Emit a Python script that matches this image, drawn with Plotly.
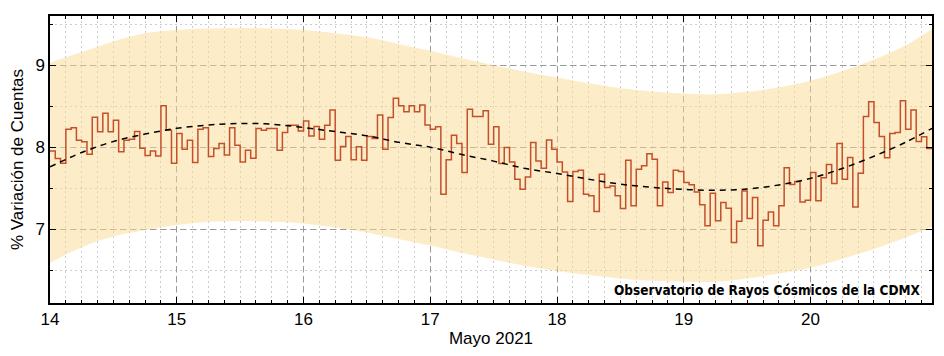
import plotly.graph_objects as go

# Hourly % variation of counts, 14 May 00:00 -> 20 May 23:00 (2021)
day_start = 14
counts_var = [
    # 14 May
    7.955, 7.862, 7.805, 8.220, 8.236, 8.085, 8.065, 7.915, 8.366, 8.187, 8.415, 8.187,
    8.330, 7.943, 8.085, 8.098, 8.190, 7.988, 7.900, 7.955, 7.894, 8.504, 8.207, 7.805,
    # 15 May
    8.167, 7.976, 8.085, 7.813, 8.220, 8.236, 7.886, 7.984, 8.045, 7.906, 8.236, 8.024,
    7.821, 7.963, 7.866, 8.228, 8.207, 8.228, 8.228, 7.963, 8.179, 8.268, 8.268, 8.199,
    # 16 May
    8.321, 8.138, 8.252, 8.098, 8.268, 8.455, 7.841, 8.008, 8.130, 7.846, 8.004, 7.841,
    8.130, 8.106, 8.394, 7.976, 8.362, 8.598, 8.504, 8.431, 8.504, 8.431, 8.516, 8.272,
    # 17 May
    8.220, 8.248, 7.427, 7.846, 8.146, 8.045, 7.691, 8.463, 8.374, 8.374, 8.443, 8.037,
    8.248, 7.800, 7.996, 7.821, 7.610, 7.488, 7.638, 8.057, 7.833, 7.744, 8.089, 7.976,
    # 18 May
    7.821, 7.699, 7.337, 7.703, 7.720, 7.427, 7.407, 7.215, 7.671, 7.508, 7.528, 7.407,
    7.252, 7.841, 7.285, 7.732, 7.775, 7.920, 7.854, 7.285, 7.577, 7.447, 7.720, 7.703,
    # 19 May
    7.569, 7.541, 7.455, 7.297, 7.041, 7.439, 7.102, 7.325, 7.256, 6.837, 7.098, 7.467,
    7.130, 7.386, 6.797, 7.110, 7.211, 7.041, 7.285, 7.748, 7.545, 7.583, 7.333, 7.354,
    # 20 May
    7.691, 7.346, 7.626, 7.789, 7.557, 8.045, 7.610, 7.874, 7.272, 7.683, 8.374, 8.553,
    8.301, 8.130, 7.870, 8.167, 8.179, 8.565, 8.220, 8.455, 8.069, 8.126, 7.984, 7.984,
]
hours_x = [day_start + i / 24 for i in range(len(counts_var))]

# Smooth fit (dashed) and band limits, read every 6 hours
fit_x = [14.0, 14.25, 14.5, 14.75, 15.0, 15.25, 15.5, 15.75, 16.0, 16.25, 16.5, 16.75,
         17.0, 17.25, 17.5, 17.75, 18.0, 18.25, 18.5, 18.75, 19.0, 19.25, 19.5, 19.75,
         20.0, 20.25, 20.5, 20.75, 20.958]
fit_y = [7.76, 7.935, 8.07, 8.16, 8.23, 8.27, 8.29, 8.28, 8.24, 8.19, 8.14, 8.06,
         8.00, 7.91, 7.83, 7.74, 7.68, 7.61, 7.55, 7.51, 7.485, 7.475, 7.49, 7.54,
         7.62, 7.74, 7.89, 8.06, 8.23]
band_upper = [9.03, 9.16, 9.29, 9.39, 9.43, 9.447, 9.455, 9.447, 9.43, 9.39, 9.34, 9.26,
              9.175, 9.085, 9.00, 8.92, 8.85, 8.78, 8.72, 8.68, 8.655, 8.645, 8.675, 8.73,
              8.81, 8.925, 9.07, 9.24, 9.44]
band_lower = [6.59, 6.78, 6.91, 6.99, 7.05, 7.09, 7.10, 7.09, 7.07, 7.02, 6.96, 6.88,
              6.80, 6.71, 6.63, 6.55, 6.49, 6.44, 6.40, 6.37, 6.36, 6.36, 6.40, 6.46,
              6.53, 6.64, 6.76, 6.90, 7.03]

x_ticks = [14, 15, 16, 17, 18, 19, 20]
y_ticks = [7, 8, 9]

FONT = "Liberation Sans, Arial, sans-serif"

fig = go.Figure()
fig.add_trace(go.Scatter(x=fit_x, y=band_lower, mode="lines", line=dict(width=0, shape="spline"),
                         hoverinfo="skip", showlegend=False))
fig.add_trace(go.Scatter(x=fit_x, y=band_upper, mode="lines", line=dict(width=0, shape="spline"),
                         fill="tonexty", fillcolor="rgba(251,217,145,0.5)",
                         hoverinfo="skip", showlegend=False))
fig.add_trace(go.Scatter(x=hours_x, y=counts_var, mode="lines",
                         line=dict(color="#C4502A", width=1.5, shape="hv"), showlegend=False))
fig.add_trace(go.Scatter(x=fit_x, y=fit_y, mode="lines",
                         line=dict(color="black", width=1.5, dash="6px,5px", shape="spline"),
                         showlegend=False))

axis_common = dict(
    showline=True, linecolor="black", linewidth=1.5, mirror="allticks",
    ticks="inside", ticklen=6, tickcolor="black", tickwidth=1,
    showgrid=True, gridcolor="#999999", gridwidth=1, griddash="6px,4px",
    zeroline=False, automargin=False,
    tickfont=dict(family=FONT, size=17, color="black"),
)

fig.update_xaxes(
    range=[14, 20.958], tickvals=x_ticks, ticktext=[str(v) for v in x_ticks],
    title=dict(text="Mayo 2021", font=dict(family=FONT, size=17, color="black"), standoff=4),
    minor=dict(tick0=14, dtick=0.125, ticks="inside", ticklen=3, tickcolor="black",
               showgrid=True, gridcolor="#cccccc", griddash="2px,3px", gridwidth=1),
    **axis_common,
)
fig.update_yaxes(
    range=[6.1, 9.6], tickvals=y_ticks, ticktext=[str(v) for v in y_ticks],
    title=dict(text="% Variación de Cuentas", font=dict(family=FONT, size=17, color="black"), standoff=10),
    minor=dict(tick0=6.5, dtick=0.5, ticks="inside", ticklen=3, tickcolor="black",
               showgrid=True, gridcolor="#cccccc", griddash="2px,3px", gridwidth=1),
    **axis_common,
)

fig.add_annotation(
    text="<b>Observatorio de Rayos Cósmicos de la CDMX</b>",
    xref="paper", yref="paper", x=0.99, y=0.012, xanchor="right", yanchor="bottom",
    showarrow=False,
    font=dict(family="Liberation Sans Narrow, Arial Narrow, DejaVu Sans Condensed, sans-serif",
              size=13.5, color="black"),
)

# page body has an 8px margin, so the figure is offset by (8, 8)
fig.update_layout(
    width=936, height=348,
    margin=dict(l=42, r=12, t=8, b=53),
    plot_bgcolor="white", paper_bgcolor="white",
)

fig.write_html("out.html")
